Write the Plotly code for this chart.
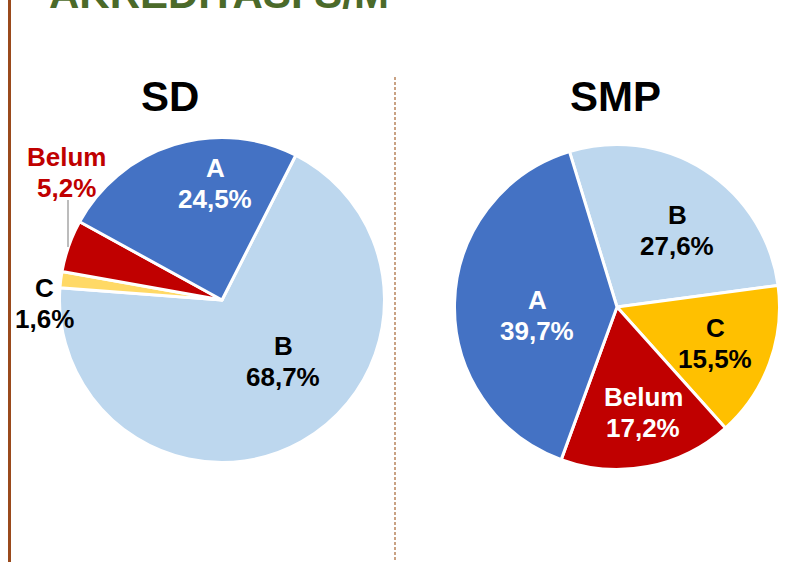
import plotly.graph_objects as go

W, H = 791, 562

# ---- data ----
categories = ["B", "C", "Belum", "A"]
sd_values = [68.7, 1.6, 5.2, 24.5]
smp_values = [27.6, 15.5, 17.2, 39.7]

sd_colors = ["#BDD7EE", "#FFD966", "#C00000", "#4472C4"]
smp_colors = ["#BDD7EE", "#FFC000", "#C00000", "#4472C4"]

FONT = "Liberation Sans, Arial, sans-serif"


def px(x):
    return x / W


def py(y):
    return 1 - y / H


def fmt(v):
    return f"{v:.1f}".replace(".", ",") + "%"


fig = go.Figure()

# SD pie: center (222,300), r=162.5
fig.add_trace(go.Pie(
    labels=categories, values=sd_values, sort=False, direction="clockwise",
    rotation=27, textinfo="none", hoverinfo="label+percent",
    marker=dict(colors=sd_colors, line=dict(color="white", width=3)),
    domain=dict(x=[px(59.5), px(384.5)], y=[py(462.5), py(137.5)]),
    showlegend=False,
))
# SMP pie: center (617,307), r=162.5
fig.add_trace(go.Pie(
    labels=categories, values=smp_values, sort=False, direction="clockwise",
    rotation=-17, textinfo="none", hoverinfo="label+percent",
    marker=dict(colors=smp_colors, line=dict(color="white", width=3)),
    domain=dict(x=[px(454.5), px(779.5)], y=[py(469.5), py(144.5)]),
    showlegend=False,
))

annotations = []

# page title (mostly cut off at the top, as in the reference)
annotations.append(dict(
    text="AKREDITASI S/M", x=px(47), y=py(19), xref="paper", yref="paper",
    xanchor="left", yanchor="bottom", showarrow=False,
    font=dict(family=FONT, size=42, color="#4B6A2A", weight="bold"),
))

# pie titles
for t, (x, y) in zip(["SD", "SMP"], [(170, 96), (615, 96)]):
    annotations.append(dict(
        text=t, x=px(x), y=py(y), xref="paper", yref="paper",
        xanchor="center", yanchor="middle", showarrow=False,
        font=dict(family=FONT, size=42, color="black", weight="bold"),
    ))

# slice labels (center of the two-line block)
label_pos_sd = {"B": (283, 361), "C": (44, 303), "Belum": (66, 172), "A": (215, 183)}
label_col_sd = {"B": "black", "C": "black", "Belum": "#C00000", "A": "white"}
label_pos_smp = {"B": (677, 231), "C": (715, 343), "Belum": (643, 412), "A": (537, 315)}
label_col_smp = {"B": "black", "C": "black", "Belum": "white", "A": "white"}
LINE_GAP = 31

for cats, vals, pos, cols in [(categories, sd_values, label_pos_sd, label_col_sd),
                              (categories, smp_values, label_pos_smp, label_col_smp)]:
    for c, v in zip(cats, vals):
        x, y = pos[c]
        for txt, yy in [(c, y - LINE_GAP / 2), (fmt(v), y + LINE_GAP / 2)]:
            annotations.append(dict(
                text=txt, x=px(x), y=py(yy), xref="paper", yref="paper",
                xanchor="center", yanchor="middle", showarrow=False,
                font=dict(family=FONT, size=26, color=cols[c], weight="bold"),
            ))

shapes = [
    # left border
    dict(type="line", xref="paper", yref="paper", x0=px(9.5), x1=px(9.5), y0=0, y1=1,
         line=dict(color="#9A4A1C", width=3)),
    # dashed divider
    dict(type="line", xref="paper", yref="paper", x0=px(395), x1=px(395), y0=py(77), y1=0,
         line=dict(color="#B8845C", width=1.5, dash="3px,2px")),
    # leader line for Belum (SD)
    dict(type="line", xref="paper", yref="paper", x0=px(68), x1=px(68), y0=py(200), y1=py(247),
         line=dict(color="#A6A6A6", width=1.5)),
]

fig.update_layout(
    width=W, height=H, margin=dict(l=0, r=0, t=0, b=0),
    paper_bgcolor="white", plot_bgcolor="white",
    annotations=annotations, shapes=shapes,
)

fig.write_html("out.html")
